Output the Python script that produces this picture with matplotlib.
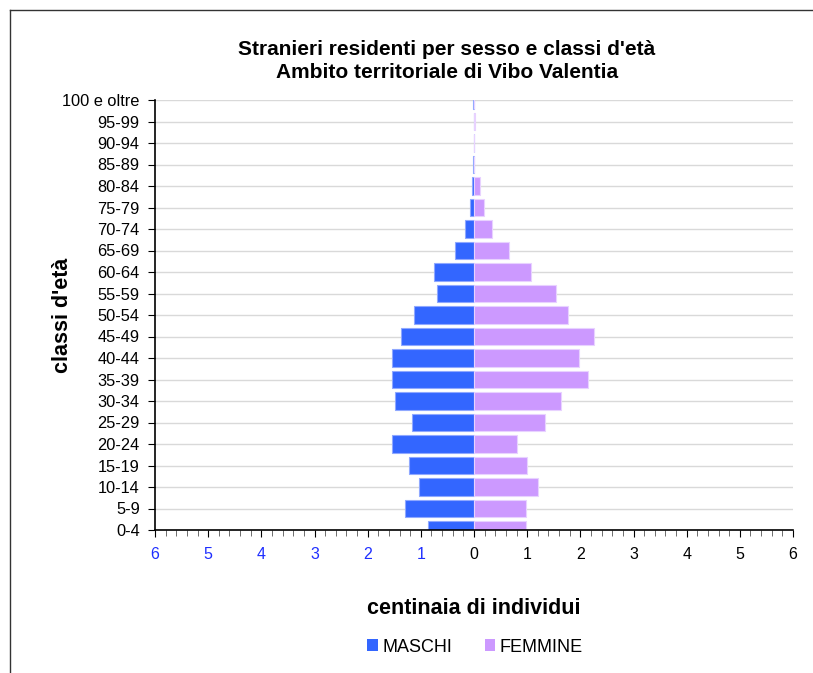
import matplotlib
matplotlib.use("Agg")
import matplotlib.pyplot as plt
import numpy as np
from matplotlib.lines import Line2D
from matplotlib.patches import Patch
from matplotlib.ticker import MultipleLocator, FixedLocator

plt.rcParams['font.family'] = ['Liberation Sans', 'DejaVu Sans']

age_classes = ["0-4", "5-9", "10-14", "15-19", "20-24", "25-29", "30-34", "35-39",
               "40-44", "45-49", "50-54", "55-59", "60-64", "65-69", "70-74",
               "75-79", "80-84", "85-89", "90-94", "95-99", "100 e oltre"]
maschi = [0.87, 1.29, 1.03, 1.23, 1.55, 1.16, 1.49, 1.55, 1.55, 1.37, 1.13, 0.70,
          0.76, 0.36, 0.175, 0.08, 0.03, 0.01, 0.0, 0.0, 0.01]
femmine = [0.97, 0.98, 1.21, 1.00, 0.81, 1.34, 1.64, 2.14, 1.97, 2.26, 1.76, 1.535,
           1.08, 0.66, 0.33, 0.18, 0.11, 0.0, 0.0, 0.02, 0.0]
x_ticks = [-6, -5, -4, -3, -2, -1, 0, 1, 2, 3, 4, 5, 6]
x_tick_labels = ["6", "5", "4", "3", "2", "1", "0", "1", "2", "3", "4", "5", "6"]

W, H = 813, 673
fig = plt.figure(figsize=(W / 100, H / 100), dpi=100)
ax = fig.add_axes([155 / W, 1 - 530 / H, (793 - 155) / W, (530 - 100) / H])

y = np.arange(len(age_classes))
ax.barh(y, -np.array(maschi), height=0.8, color="#3366FF", edgecolor="#8FA8FF",
        linewidth=0.8, zorder=3, label="MASCHI")
ax.barh(y, femmine, height=0.8, color="#CC99FF", edgecolor="#E8D2FF",
        linewidth=0.8, zorder=3, label="FEMMINE")

ax.set_xlim(-6, 6)
ax.set_ylim(0, len(age_classes) - 1)
ax.set_yticks(y)
ax.set_yticklabels(age_classes, fontsize=11.8)
ax.xaxis.set_major_locator(FixedLocator(x_ticks))
ax.set_xticklabels(x_tick_labels, fontsize=11.5)
for lbl, v in zip(ax.get_xticklabels(), x_ticks):
    lbl.set_color("#1F2FFF" if v < 0 else "black")
ax.xaxis.set_minor_locator(MultipleLocator(0.2))
ax.tick_params(axis='x', which='major', length=5, width=0.8, pad=7)
ax.tick_params(axis='x', which='minor', length=4, width=0.6, color="#555555")
ax.tick_params(axis='y', which='major', length=5, width=0.8, pad=6)

ax.yaxis.grid(True, color="#D9D9D9", linewidth=1.0, zorder=0)
ax.set_axisbelow(True)
for s in ("top", "right"):
    ax.spines[s].set_visible(False)
for s in ("left", "bottom"):
    ax.spines[s].set_linewidth(1.2)
    ax.spines[s].set_zorder(4)

ax.set_xlabel("centinaia di individui", fontsize=15.5, fontweight='bold', labelpad=26)
ax.set_ylabel("classi d'età", fontsize=15.5, fontweight='bold', va='center')
ax.yaxis.set_label_coords((62 - 155) / (793 - 155), 0.5)

fig.text(447 / W, 1 - 61 / H,
         "Stranieri residenti per sesso e classi d'età\nAmbito territoriale di Vibo Valentia",
         ha='center', va='center', fontsize=15, fontweight='bold', linespacing=1.25)

handles = [Patch(facecolor="#3366FF", edgecolor="none", label="MASCHI"),
           Patch(facecolor="#CC99FF", edgecolor="none", label="FEMMINE")]
fig.legend(handles=handles, loc='center', bbox_to_anchor=(475 / W, 1 - 647 / H),
           ncol=2, frameon=False, fontsize=13, handlelength=0.6, handleheight=0.6,
           handletextpad=0.25, columnspacing=1.8)

# outer frame
fig.add_artist(Line2D([10 / W, 10 / W], [0, 1 - 10 / H], transform=fig.transFigure,
                      color="#333333", linewidth=1.0))
fig.add_artist(Line2D([10 / W, 1], [1 - 10 / H, 1 - 10 / H], transform=fig.transFigure,
                      color="#333333", linewidth=1.0))

fig.savefig("out.png", dpi=100)
